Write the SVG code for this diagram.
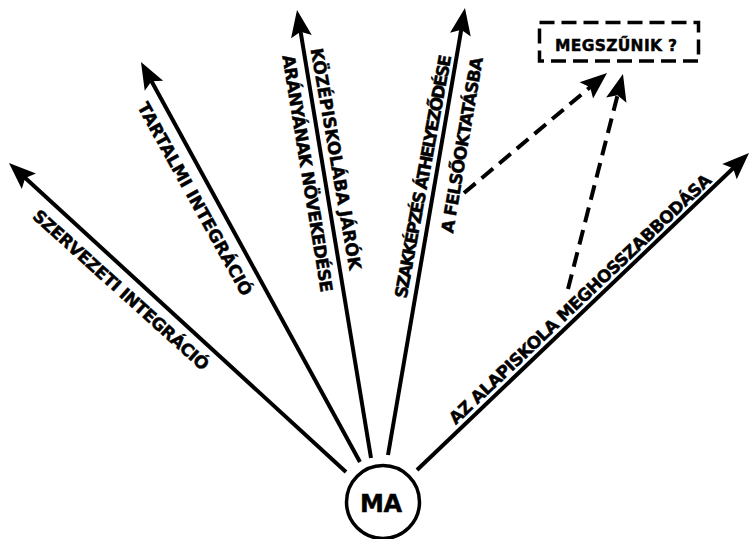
<svg xmlns="http://www.w3.org/2000/svg" width="749" height="539" viewBox="0 0 749 539">
<style>
.ln{stroke:#000;stroke-width:4;fill:none;marker-end:url(#ah)}
.dl{stroke:#000;stroke-width:4;fill:none;stroke-dasharray:15 8;marker-end:url(#ah)}
.lb{font-family:"DejaVu Sans","Liberation Sans",sans-serif;font-weight:bold;font-size:17px;fill:#000;stroke:#000;stroke-width:0.45}
</style>
<defs>
<marker id="ah" markerUnits="userSpaceOnUse" viewBox="-15 -12 30 24" markerWidth="30" markerHeight="24" refX="0" refY="0" orient="auto">
<path d="M14,0 L-13,-10.5 L-8,0 L-13,10.5 Z" fill="#000"/>
</marker>
</defs>
<rect width="749" height="539" fill="#fff"/>
<g id="connectors">
<line class="ln" x1="346" y1="472" x2="19.3" y2="172.5"/>
<line class="ln" x1="360" y1="462" x2="147.7" y2="74.3"/>
<line class="ln" x1="371" y1="458" x2="299.3" y2="23.8"/>
<line class="ln" x1="388" y1="455" x2="462.6" y2="21.8"/>
<line class="ln" x1="417" y1="470" x2="738.9" y2="162.7"/>
<line class="dl" x1="464" y1="193" x2="596.3" y2="82"/>
<line class="dl" x1="568" y1="289" x2="619.5" y2="87.6"/>
</g>
<g id="label-szervezeti">
<text class="lb" transform="translate(121 290) rotate(42)" y="6" text-anchor="middle" textLength="230" lengthAdjust="spacing">SZERVEZETI INTEGRÁCIÓ</text>
</g>
<g id="label-tartalmi">
<text class="lb" transform="translate(195 199) rotate(61)" y="6" text-anchor="middle" textLength="218" lengthAdjust="spacing">TARTALMI INTEGRÁCIÓ</text>
</g>
<g id="label-kozepiskola">
<text class="lb" transform="translate(336 159) rotate(80)" y="6" text-anchor="middle" textLength="225" lengthAdjust="spacing">KÖZÉPISKOLÁBA JÁRÓK</text>
<text class="lb" transform="translate(307.5 173.5) rotate(80.7)" y="6" text-anchor="middle" textLength="240" lengthAdjust="spacing">ARÁNYÁNAK NÖVEKEDÉSE</text>
</g>
<g id="label-szakkepzes">
<text class="lb" transform="translate(423 176.5) rotate(-79.5)" y="6" text-anchor="middle" textLength="247" lengthAdjust="spacing">SZAKKÉPZÉS ÁTHELYEZŐDÉSE</text>
<text class="lb" transform="translate(462 145) rotate(-80.3)" y="6" text-anchor="middle" textLength="178" lengthAdjust="spacing">A FELSŐOKTATÁSBA</text>
</g>
<g id="label-alapiskola">
<text class="lb" transform="translate(580 299) rotate(-43.5)" y="6" text-anchor="middle" textLength="354" lengthAdjust="spacing">AZ ALAPISKOLA MEGHOSSZABBODÁSA</text>
</g>
<g id="node-megszunik">
<rect x="539.5" y="22.5" width="159" height="38.5" fill="none" stroke="#000" stroke-width="3.5" stroke-dasharray="15 7"/>
<text class="lb" x="616" y="50.5" text-anchor="middle" style="font-size:15.5px" textLength="122" lengthAdjust="spacing">MEGSZŰNIK ?</text>
</g>
<g id="node-ma">
<circle cx="383" cy="502" r="36.5" fill="#fff" stroke="#000" stroke-width="3.5"/>
<text class="lb" x="381" y="512" text-anchor="middle" style="font-size:24px" textLength="42" lengthAdjust="spacing">MA</text>
</g>
</svg>
